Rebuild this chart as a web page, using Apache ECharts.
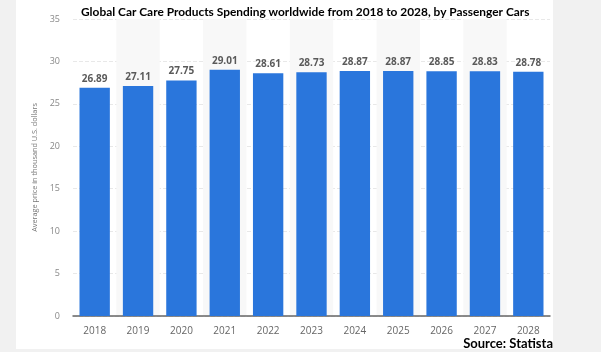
<!DOCTYPE html>
<html>
<head>
<meta charset="utf-8">
<script src="https://cdn.jsdelivr.net/npm/echarts@6/dist/echarts.min.js"></script>
<style>
  html, body { margin: 0; padding: 0; background: #f1f1f1; }
  #chart { width: 601px; height: 352px; }
</style>
</head>
<body>
<div id="chart"></div>
<script>
var years = ['2018', '2019', '2020', '2021', '2022', '2023', '2024', '2025', '2026', '2027', '2028'];
var spending = [26.89, 27.11, 27.75, 29.01, 28.61, 28.73, 28.87, 28.87, 28.85, 28.83, 28.78];
var yTicks = [0, 5, 10, 15, 20, 25, 30, 35];

var chart = echarts.init(document.getElementById('chart'));

option = {
    backgroundColor: '#f1f1f1',
    graphic: [
        {
            type: 'rect',
            z: -10,
            shape: { x: 16, y: 0, width: 537, height: 349 },
            style: { fill: '#ffffff' }
        },
        {
            type: 'text',
            right: 48,
            bottom: 2,
            style: {
                text: 'Source: Statista',
                fontFamily: 'Lato',
                fontWeight: 'bold',
                fontSize: 13,
                fill: '#000'
            }
        }
    ],
    title: {
        text: 'Global Car Care Products Spending worldwide from 2018 to 2028, by Passenger Cars',
        left: 76,
        top: 1,
        textStyle: {
            fontFamily: 'Lato',
            fontWeight: 'bold',
            fontSize: 11.9,
            color: '#000'
        }
    },
    grid: {
        left: 73,
        right: 51,
        top: 19,
        bottom: 36
    },
    xAxis: {
        type: 'category',
        data: years,
        axisLine: { lineStyle: { color: '#666', width: 1.5 } },
        axisTick: { show: false },
        axisLabel: { color: '#666', fontSize: 10, margin: 10, fontFamily: 'Open Sans' },
        splitArea: {
            show: true,
            areaStyle: { color: ['rgba(0,0,0,0)', '#f8f8f8'] }
        }
    },
    yAxis: {
        type: 'value',
        min: yTicks[0],
        max: yTicks[yTicks.length - 1],
        interval: 5,
        name: 'Average price in thousand U.S. dollars',
        nameLocation: 'middle',
        nameGap: 27,
        nameTextStyle: { color: '#777', fontSize: 7.3, fontFamily: 'Open Sans' },
        axisLine: { show: false },
        axisTick: { show: false },
        axisLabel: { color: '#888', fontSize: 9, margin: 13, fontFamily: 'Open Sans' },
        splitLine: { lineStyle: { color: '#e8e8e8', type: 'dashed' } }
    },
    series: [
        {
            type: 'bar',
            barWidth: '70%',
            data: spending,
            itemStyle: { color: '#2a76dc' },
            label: {
                show: true,
                position: 'top',
                distance: 4,
                color: '#5a5a5a',
                fontSize: 10,
                fontWeight: 'bold',
                fontFamily: 'Open Sans',
                formatter: function (p) { return p.value.toFixed(2); }
            }
        }
    ]
};

chart.setOption(option);
</script>
</body>
</html>
